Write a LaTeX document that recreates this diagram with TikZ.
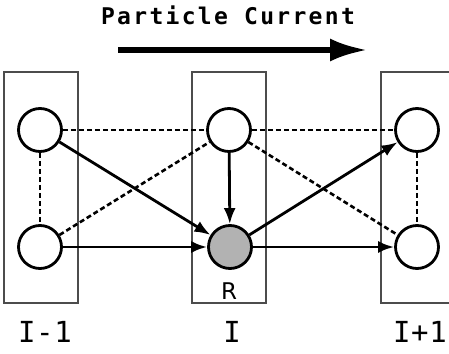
\documentclass[tikz,border=0pt]{standalone}
\usepackage{fontspec}
\setsansfont{DejaVu Sans}
\newfontfamily\titlefont[LetterSpace=10]{DejaVu Sans Mono Bold}
\newfontfamily\cellfont[LetterSpace=2]{DejaVu Sans Mono}
\usepackage{tikz}
\usetikzlibrary{arrows.meta,positioning}

\begin{document}
\begin{tikzpicture}[x=1pt, y=-1pt,
  cell/.style={draw=black!70, line width=1.8pt, minimum width=74pt, minimum height=231pt, inner sep=0pt},
  site/.style={circle, draw, line width=2.8pt, fill=white, minimum size=43pt, inner sep=0pt},
  hop/.style={-{Latex[length=16pt,width=12pt]}, line width=2.8pt},
  link/.style={line width=2.6pt, dash pattern=on 5pt off 3pt},
  lab/.style={font=\cellfont\fontsize{29}{30}\selectfont, inner sep=0pt}
]
\useasboundingbox (0,0) rectangle (449,353);
% columns
\node[cell] (colL) at (41,187.5) {};
\node[cell] (colM) at (229,187.5) {};
\node[cell] (colR) at (418,187.5) {};
% sites
\node[site] (lt) at (40,130) {};
\node[site] (lb) at (40,247) {};
\node[site] (mt) at (229,130) {};
\node[site, fill=black!30] (r) at (230,247) {};
\node[site] (rt) at (417,130) {};
\node[site] (rb) at (417,247) {};
% couplings
\draw[link] (lt) -- (mt);
\draw[link] (mt) -- (rt);
\draw[link] (lt) -- (lb);
\draw[link] (rt) -- (rb);
\draw[link] (lb) -- (mt);
\draw[link] (mt) -- (rb);
% hops
\draw[hop] (lt) -- (r);
\draw[hop] (lb) -- (r);
\draw[hop] (mt) -- (r);
\draw[hop] (r) -- (rt);
\draw[hop] (r) -- (rb);
% labels
\node[font=\sffamily\fontsize{23}{24}\selectfont, inner sep=0pt] (rlab) at (229,291) {R};
\node[lab] (labL) at (45,332) {I-1};
\node[lab] (labM) at (232,332) {I};
\node[lab] (labR) at (420,332) {I+1};
% current
\node[font=\titlefont\fontsize{23}{24}\selectfont, inner sep=0pt] (title) at (228,15) {Particle Current};
\coordinate (cs) at (118,50);
\coordinate (ce) at (367,50);
\draw[line width=5.5pt, -{Latex[length=37pt,width=23pt]}] (cs) -- (ce);
\end{tikzpicture}
\end{document}
